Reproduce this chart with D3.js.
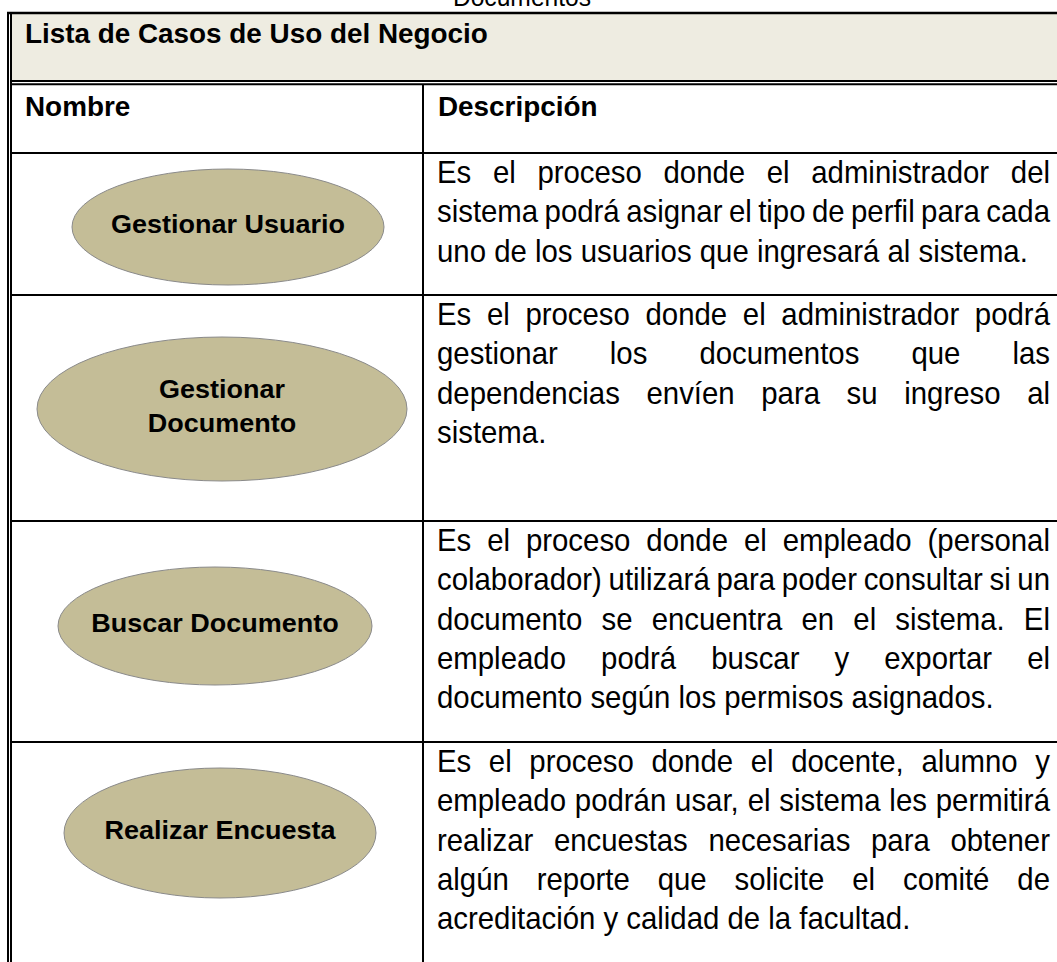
<!DOCTYPE html>
<html><head><meta charset="utf-8">
<script src="https://cdn.jsdelivr.net/npm/d3@7"></script>
<style>html,body{margin:0;padding:0;background:#fff;overflow:hidden} svg{display:block}</style>
</head><body>
<svg id="c" width="1057" height="962"></svg>
<script>
// ---- content ----
const pageHeading = "Documentos";
const tableTitle = "Lista de Casos de Uso del Negocio";
const columnHeaders = ["Nombre", "Descripción"];
const useCaseNames = [
  ["Gestionar Usuario"],
  ["Gestionar", "Documento"],
  ["Buscar Documento"],
  ["Realizar Encuesta"]
];
const descriptions = [
  ["Es el proceso donde el administrador del",
   "sistema podrá asignar el tipo de perfil para cada",
   "uno de los usuarios que ingresará al sistema."],
  ["Es el proceso donde el administrador podrá",
   "gestionar los documentos que las",
   "dependencias envíen para su ingreso al",
   "sistema."],
  ["Es el proceso donde el empleado (personal",
   "colaborador) utilizará para poder consultar si un",
   "documento se encuentra en el sistema. El",
   "empleado podrá buscar y exportar el",
   "documento según los permisos asignados."],
  ["Es el proceso donde el docente, alumno y",
   "empleado podrán usar, el sistema les permitirá",
   "realizar encuestas necesarias para obtener",
   "algún reporte que solicite el comité de",
   "acreditación y calidad de la facultad."]
];

// ---- layout ----
const W = 1057, H = 962;
const FONT = "'Liberation Sans', Arial, Helvetica, sans-serif";
const rowEdges = [153, 295, 521, 742, 1000];
const colX = 423;
const descLeft = 437, descRight = 1050;
const ellipseGeom = [
  {cx: 228, cy: 227, rx: 156, ry: 58},
  {cx: 222, cy: 409, rx: 185, ry: 72},
  {cx: 215, cy: 626, rx: 157, ry: 59},
  {cx: 220, cy: 833, rx: 156, ry: 65}
];
const boldSize = 27.5, regSize = 31, labelSize = 25;
const lineStep = 39.3;

const svg = d3.select("#c");
const rowIndex = d3.range(useCaseNames.length);
const yTop = d3.scaleOrdinal().domain(rowIndex).range(rowEdges.slice(0, -1));

// measuring helper
const tmp = svg.append("text").attr("font-family", FONT).attr("x", -1000).attr("y", -1000);
function measure(str, size, weight) {
  tmp.attr("font-size", size).attr("font-weight", weight).text(str);
  return tmp.node().getComputedTextLength();
}
const sxBold = 463 / measure(tableTitle, boldSize, "bold");
const sxLabel = 234 / measure(useCaseNames[0][0], labelSize, "bold");
const sxReg = 591 / measure(descriptions[0][2], regSize, "normal");
tmp.remove();

function sText(g, str, x, y, size, weight, sx, anchor) {
  return g.append("text")
    .attr("transform", `translate(${x},${y}) scale(${sx},1)`)
    .attr("font-family", FONT).attr("font-size", size).attr("font-weight", weight)
    .attr("text-anchor", anchor || "start").attr("fill", "#000").text(str);
}

// header band background
svg.append("rect").attr("x", 12).attr("y", 14).attr("width", W - 12).attr("height", 66).attr("fill", "#eeece1");

// heading above (cut off at page top)
sText(svg, pageHeading, 522, 6, 26, "normal", sxReg, "middle");

// borders
const lines = svg.append("g").attr("stroke", "#000").attr("fill", "none");
lines.append("line").attr("x1", 7).attr("x2", W).attr("y1", 13).attr("y2", 13).attr("stroke-width", 2.5);
lines.append("line").attr("x1", 8).attr("x2", 8).attr("y1", 12).attr("y2", H).attr("stroke-width", 2);
lines.append("line").attr("x1", 11).attr("x2", 11).attr("y1", 14).attr("y2", H).attr("stroke-width", 2);
lines.append("line").attr("x1", 11).attr("x2", W).attr("y1", 81).attr("y2", 81).attr("stroke-width", 2);
lines.append("line").attr("x1", 11).attr("x2", W).attr("y1", 84.3).attr("y2", 84.3).attr("stroke-width", 2);
lines.append("line").attr("x1", colX).attr("x2", colX).attr("y1", 85).attr("y2", H).attr("stroke-width", 2);
lines.selectAll("line.row").data(rowIndex).join("line").attr("class", "row")
  .attr("x1", 11).attr("x2", W).attr("y1", d => yTop(d)).attr("y2", d => yTop(d)).attr("stroke-width", 2);

// title + column headers
sText(svg, tableTitle, 25, 43, boldSize, "bold", sxBold);
sText(svg, columnHeaders[0], 25, 116, boldSize, "bold", sxBold);
sText(svg, columnHeaders[1], 438, 116, boldSize, "bold", sxBold);

// ellipses
const eg = svg.append("g");
eg.selectAll("ellipse").data(rowIndex).join("ellipse")
  .attr("cx", i => ellipseGeom[i].cx).attr("cy", i => ellipseGeom[i].cy)
  .attr("rx", i => ellipseGeom[i].rx).attr("ry", i => ellipseGeom[i].ry)
  .attr("fill", "#c4bd97").attr("stroke", "#8a8a8a").attr("stroke-width", 1);
rowIndex.forEach(i => {
  const e = ellipseGeom[i], names = useCaseNames[i];
  const n = names.length, step = 34;
  names.forEach((s, k) => {
    const y = e.cy + 6 + (k - (n - 1) / 2) * step;
    sText(eg, s, e.cx, y, labelSize, "bold", sxLabel, "middle");
  });
});

// descriptions (justified)
const dg = svg.append("g");
rowIndex.forEach(i => {
  const paraLines = descriptions[i];
  paraLines.forEach((ln, k) => {
    const y = yTop(i) + 30 + k * lineStep;
    const last = k === paraLines.length - 1;
    if (last) { sText(dg, ln, descLeft, y, regSize, "normal", sxReg); return; }
    const words = ln.split(" ");
    const t = dg.append("text").attr("font-family", FONT).attr("font-size", regSize).attr("x", -1000).attr("y", -1000);
    const ws = words.map(w => { t.text(w); return t.node().getComputedTextLength() * sxReg; });
    t.remove();
    const total = d3.sum(ws);
    const gap = (descRight - descLeft - total) / (words.length - 1);
    let x = descLeft;
    words.forEach((w, j) => { sText(dg, w, x, y, regSize, "normal", sxReg); x += ws[j] + gap; });
  });
});
</script>
</body></html>
